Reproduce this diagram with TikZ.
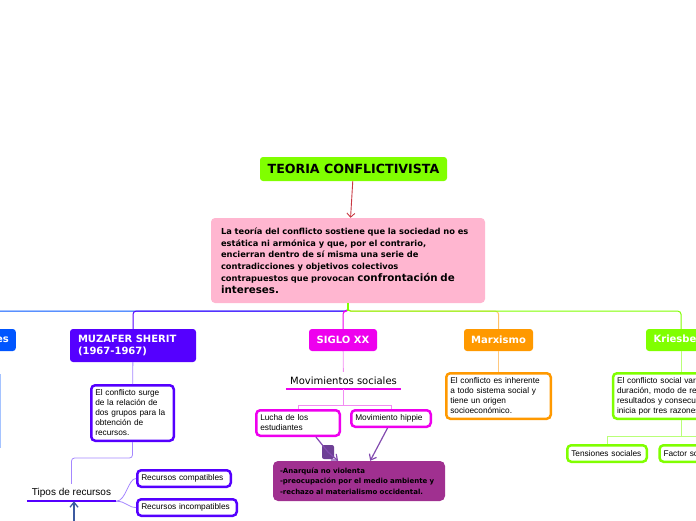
\documentclass[tikz,border=0pt]{standalone}
\usepackage{fontspec}
\setmainfont{Liberation Sans}
\newfontfamily\verd{DejaVu Sans}
\usetikzlibrary{positioning}
\usetikzlibrary{arrows.meta}

\definecolor{lima}{RGB}{128,255,0}
\definecolor{rosa}{RGB}{255,182,208}
\definecolor{morado}{RGB}{85,0,255}
\definecolor{fucsia}{RGB}{238,0,238}
\definecolor{naranja}{RGB}{255,153,0}
\definecolor{azul}{RGB}{0,85,255}
\definecolor{ciruela}{RGB}{160,48,144}
\definecolor{moradoclaro}{RGB}{165,135,255}
\definecolor{fucsiaclaro}{RGB}{242,140,242}
\definecolor{naranjaclaro}{RGB}{255,200,125}
\definecolor{limaclaro}{RGB}{185,255,120}
\definecolor{azulclaro}{RGB}{165,195,255}
\definecolor{rojo}{RGB}{200,55,65}
\definecolor{azulflecha}{RGB}{60,90,160}
\definecolor{violeta}{RGB}{130,75,175}

\tikzset{
  rama/.style={rounded corners=3pt, text=white, inner sep=0pt,
    font=\verd\bfseries\fontsize{10}{12}\selectfont, minimum height=22pt},
  caja/.style={draw, line width=2.5pt, rounded corners=4pt, fill=white,
    font=\fontsize{8.3}{10}\selectfont, align=left, inner xsep=4pt, inner ysep=0pt},
  subtema/.style={inner sep=0pt, font=\verd\fontsize{10}{12}\selectfont},
  bus/.style={line width=1pt, rounded corners=3pt},
}

\begin{document}
\begin{tikzpicture}[x=1pt,y=-1pt]
\useasboundingbox (0,0) rectangle (696,520);
\clip (0,0) rectangle (696,520);

% centro
\node[rama, fill=lima, text=black, minimum width=187pt, minimum height=24pt,
  font=\verd\bfseries\fontsize{12.6}{14}\selectfont] (titulo) at (353.5,169) {TEORIA CONFLICTIVISTA};
\node[fill=rosa, rounded corners=4pt, minimum width=274pt, minimum height=85pt, inner xsep=10pt,
  text width=254pt, align=left, font=\verd\bfseries\fontsize{8.3}{11.7}\selectfont] (teoria) at (348,260.5)
  {La teoría del conflicto sostiene que la sociedad no es\\
   estática ni armónica y que, por el contrario,\\
   encierran dentro de sí misma una serie de\\
   contradicciones y objetivos colectivos\\
   contrapuestos que provocan {\fontsize{10.3}{11.7}\selectfont confrontación de}\\
   {\fontsize{10.3}{11.7}\selectfont intereses.}};
\draw[rojo, line width=0.9pt, -{Straight Barb[length=4pt]}] (titulo) -- (teoria);

% ramas
\node[rama, fill=azul, anchor=east, text width=40pt, align=right, inner xsep=7pt] (azulrama) at (16,340) {es};
\node[draw=azulclaro, line width=1.5pt, minimum width=60pt, minimum height=72pt, anchor=east] (azulcaja) at (0.7,411) {};
\node[rama, fill=morado, minimum width=126pt, minimum height=33pt, text width=110pt, align=left,
  font=\verd\bfseries\fontsize{10}{12}\selectfont] (muzafer) at (133,345.5) {MUZAFER SHERIT\\(1967-1967)};
\node[rama, fill=fucsia, minimum width=68pt] (siglo) at (343,340) {SIGLO XX};
\node[rama, fill=naranja, minimum width=69pt] (marx) at (498.5,340) {Marxismo};
\node[rama, fill=lima, minimum width=70pt] (kries) at (681,340) {Kriesberg};

\draw[bus, azul] (teoria.south) -- ++(0,8) -| (azulrama.north);
\draw[bus, morado] (teoria.south) -- ++(0,8) -| (muzafer.north);
\draw[bus, fucsia] (teoria.south) -- ++(0,8) -| (siglo.north);
\draw[bus, naranja!60] (teoria.south) -- ++(0,8) -| (marx.north);
\draw[bus, lima] (teoria.south) -- ++(0,8) -| (kries.north);
\draw[line width=1.2pt, lima] (teoria.south) -- ++(0,8);

% MUZAFER SHERIT
\node[caja, draw=morado, text width=74.5pt, minimum height=55.5pt] (muztexto) at (132.5,413)
  {El conflicto surge\\de la relación de\\dos grupos para la\\obtención de\\recursos.};
\node[inner sep=0pt, minimum width=89pt, minimum height=17pt, font=\fontsize{10}{12}\selectfont] (tipos) at (71.5,492.5) {Tipos de recursos};
\draw[morado, line width=2.5pt] (tipos.south west) -- (tipos.south east);
\node[caja, draw=morado, text width=85.5pt, minimum height=16.5pt] (compat) at (184,478.5) {Recursos compatibles};
\node[caja, draw=morado, text width=91.5pt, minimum height=16.5pt] (incompat) at (187,507.5) {Recursos incompatibles};
\draw[moradoclaro, line width=0.8pt] (muzafer) -- (muztexto);
\draw[bus, moradoclaro, line width=0.8pt] (muztexto.south) -- ++(0,16) -| (tipos.north);
\draw[moradoclaro, line width=0.8pt] (tipos.south east) .. controls +(10,0) and +(-8,0) .. (compat.west);
\draw[moradoclaro, line width=0.8pt] (tipos.south east) .. controls +(10,0) and +(-8,0) .. (incompat.west);
\coordinate (abajo) at (74,530);
\draw[azulflecha, line width=1.3pt, -{Straight Barb[length=5pt,width=8pt]}] (abajo) -- (abajo |- tipos.south);

% SIGLO XX
\node[subtema, minimum width=115pt, minimum height=17pt] (movs) at (343.5,380.5) {Movimientos sociales};
\draw[fucsia, line width=2.5pt] (movs.south west) -- (movs.south east);
\node[caja, draw=fucsia, text width=75.5pt, minimum height=25.5pt] (lucha) at (298,423) {Lucha de los\\estudiantes};
\node[caja, draw=fucsia, text width=71.5pt, minimum height=16.5pt] (hippie) at (391,418.5) {Movimiento hippie};
\node[fill=ciruela, rounded corners=5pt, minimum width=172pt, minimum height=40pt, inner xsep=7pt,
  text width=158pt, align=left, font=\verd\bfseries\fontsize{7}{10.5}\selectfont] (anarquia) at (359,481)
  {-Anarquía no violenta\\-preocupación por el medio ambiente y\\-rechazo al materialismo occidental.};
\draw[fucsiaclaro, line width=0.8pt] (siglo) -- (movs);
\draw[fucsiaclaro, line width=0.8pt] (movs.south) -- ++(0,16) -| (lucha.north);
\draw[fucsiaclaro, line width=0.8pt] (movs.south) -- ++(0,16) -| (hippie.north);
\node[fill=violeta!85!black, rounded corners=2pt, minimum width=12pt, minimum height=14pt, inner sep=0pt] (asa) at (328,452) {};
\draw[violeta, line width=1.2pt, -{Straight Barb[length=5pt,width=8pt]}] (lucha.-38) -- (asa.center) -- (anarquia.136);
\draw[violeta, line width=1.2pt, -{Straight Barb[length=5pt,width=8pt]}] (hippie.-110) -- (anarquia.61);

% Marxismo
\node[caja, draw=naranja, text width=96.5pt, minimum height=45.5pt] (marxtexto) at (498.5,396)
  {El conflicto es inherente\\a todo sistema social y\\tiene un origen\\socioeconómico.};
\draw[naranjaclaro, line width=0.8pt] (marx) -- (marxtexto);

% Kriesberg
\node[caja, draw=lima, text width=128pt, minimum height=45.5pt] (kriestexto) at (681,396)
  {El conflicto social varía en\\duración, modo de resolución,\\resultados y consecuencias, se\\inicia por tres razones:};
\node[caja, draw=lima, text width=71.5pt, minimum height=16.5pt] (tensiones) at (607,453.5) {Tensiones sociales};
\node[caja, draw=lima, text width=72pt, minimum height=16.5pt] (factor) at (699.5,453.5) {Factor social};
\draw[limaclaro, line width=0.8pt] (kries) -- (kriestexto);
\draw[limaclaro, line width=0.8pt] (kriestexto.south) -- ++(0,16) -| (tensiones.north);
\draw[limaclaro, line width=0.8pt] (kriestexto.south) -- ++(0,16) -| (factor.north);
\end{tikzpicture}
\end{document}
